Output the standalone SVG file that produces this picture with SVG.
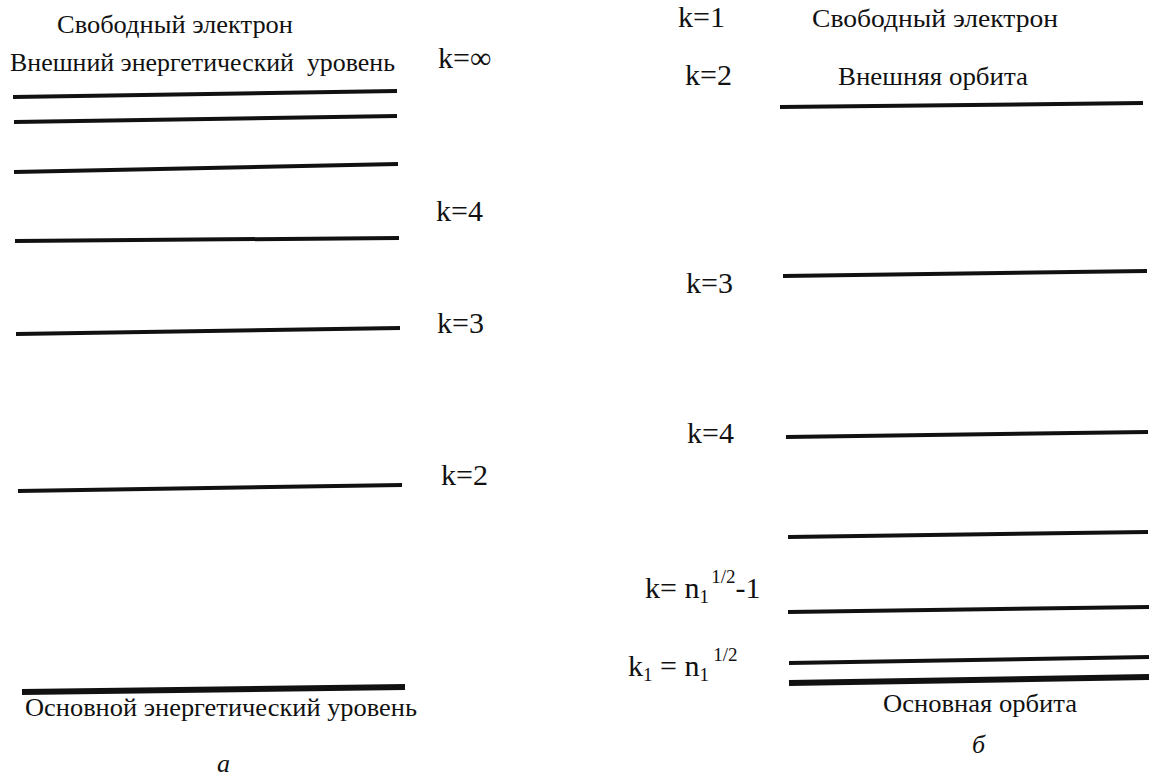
<svg xmlns="http://www.w3.org/2000/svg" width="1150" height="778" viewBox="0 0 1150 778">
<style>
.t{font-family:"Liberation Serif","Times New Roman","DejaVu Serif",serif;font-size:26px;fill:#111}
.k{font-size:30px}
.s{font-size:19px}
.i{font-style:italic}
.l{stroke:#111;stroke-width:4;stroke-linecap:butt}
.th{stroke-width:6}
</style>
<rect width="1150" height="778" fill="#fff"/>
<g id="diagram-a">
  <text class="t" x="57" y="33" textLength="236" lengthAdjust="spacingAndGlyphs">Свободный электрон</text>
  <text class="t" x="10" y="71" textLength="385" lengthAdjust="spacingAndGlyphs" xml:space="preserve">Внешний энергетический  уровень</text>
  <text class="t k" x="438" y="68">k=∞</text>
  <g id="levels-a">
    <line class="l" x1="13" y1="97" x2="397" y2="91"/>
    <line class="l" x1="14" y1="122" x2="397" y2="116"/>
    <line class="l" x1="14" y1="172" x2="398" y2="164"/>
    <line class="l" x1="15" y1="241" x2="399" y2="238"/>
    <line class="l" x1="16" y1="334" x2="400" y2="328"/>
    <line class="l" x1="18" y1="491" x2="402" y2="485"/>
    <line class="l th" x1="22" y1="692" x2="405" y2="687"/>
  </g>
  <text class="t k" x="436" y="221">k=4</text>
  <text class="t k" x="437" y="333">k=3</text>
  <text class="t k" x="441" y="485">k=2</text>
  <text class="t" x="25" y="716" textLength="392" lengthAdjust="spacingAndGlyphs">Основной энергетический уровень</text>
  <text class="t i" x="217" y="772">a</text>
</g>
<g id="diagram-b">
  <text class="t k" x="678" y="27">k=1</text>
  <text class="t" x="812" y="27" textLength="246" lengthAdjust="spacingAndGlyphs">Свободный электрон</text>
  <text class="t k" x="685" y="85">k=2</text>
  <text class="t" x="838" y="85" textLength="190" lengthAdjust="spacingAndGlyphs">Внешняя орбита</text>
  <g id="levels-b">
    <line class="l" x1="780" y1="107" x2="1143" y2="103"/>
    <line class="l" x1="783" y1="276" x2="1147" y2="271"/>
    <line class="l" x1="786" y1="437" x2="1148" y2="432"/>
    <line class="l" x1="788" y1="537" x2="1148" y2="532"/>
    <line class="l" x1="788" y1="612" x2="1149" y2="607"/>
    <line class="l" x1="789" y1="663" x2="1149" y2="657"/>
    <line class="l th" x1="789" y1="683" x2="1149" y2="677"/>
  </g>
  <text class="t k" x="686" y="293">k=3</text>
  <text class="t k" x="687" y="443">k=4</text>
  <text class="t k" x="645" y="598" xml:space="preserve">k= n<tspan class="s" dy="5">1</tspan><tspan class="s" dx="3" dy="-20">1/2</tspan><tspan dy="15">-1</tspan></text>
  <text class="t k" x="628" y="676" xml:space="preserve">k<tspan class="s" dy="5">1</tspan><tspan dy="-5"> = n</tspan><tspan class="s" dy="5">1</tspan><tspan class="s" dx="5" dy="-20">1/2</tspan></text>
  <text class="t" x="883" y="712" textLength="194" lengthAdjust="spacingAndGlyphs">Основная орбита</text>
  <text class="t i" x="972" y="753">б</text>
</g>
</svg>
